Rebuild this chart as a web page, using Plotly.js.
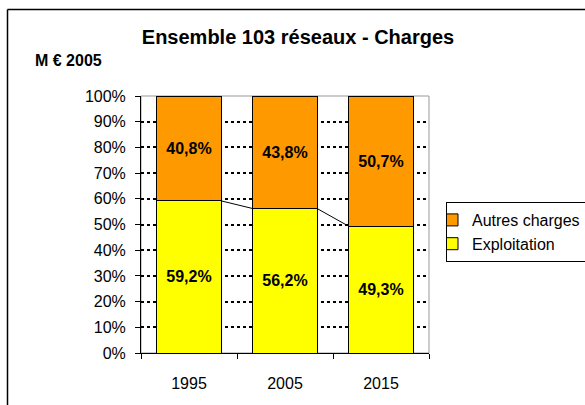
<!DOCTYPE html>
<html><head><meta charset="utf-8">
<script src="https://cdn.plot.ly/plotly-3.0.1.min.js"></script>
<style>body{margin:0;padding:0;background:#fff}#c{width:585px;height:405px}</style>
</head><body><div id="c"></div>
<script>
const years = ['1995', '2005', '2015'];
const exploitation = [0.592, 0.562, 0.493];
const autres = [0.408, 0.438, 0.507];
const exploitLabels = ['59,2%', '56,2%', '49,3%'];
const autresLabels = ['40,8%', '43,8%', '50,7%'];

const xpos = years.map((_, i) => i);
const gap = 0.33;
const halfW = (1 - gap) / 2;
const labelFont = {family:'Liberation Sans, Arial', size:16, color:'#000', weight:'bold'};
const traces = [
  {type:'bar', name:'Exploitation', x:xpos, y:exploitation, text:exploitLabels,
   textposition:'inside', insidetextanchor:'middle', textangle:0, textfont:labelFont,
   marker:{color:'#FFFF00', line:{color:'#000', width:1}}, hoverinfo:'skip'},
  {type:'bar', name:'Autres charges', x:xpos, y:autres, text:autresLabels,
   textposition:'inside', insidetextanchor:'middle', textangle:0, textfont:labelFont,
   marker:{color:'#FF9900', line:{color:'#000', width:1}}, hoverinfo:'skip'}
];
for (let i = 0; i < years.length - 1; i++) {
  traces.push({type:'scatter', mode:'lines', showlegend:false, hoverinfo:'skip',
    x:[xpos[i] + halfW, xpos[i+1] - halfW], y:[exploitation[i], exploitation[i+1]],
    line:{color:'#000', width:1}});
}
const L = 141, R = 429, T = 96, B = 353, W = 585, H = 405;
const px = v => (v - L) / (R - L);
const py = v => (B - v) / (B - T);
const layout = {
  width:W, height:H, margin:{l:L, r:W-R, t:T, b:H-B, autoexpand:false},
  paper_bgcolor:'#fff', plot_bgcolor:'#fff',
  font:{family:'Liberation Sans, Arial', size:16, color:'#000'},
  barmode:'stack', bargap:gap, showlegend:true,
  title:{text:'<b>Ensemble 103 réseaux - Charges</b>', x:px(298), xanchor:'center', xref:'paper',
    y:1-37/H, yanchor:'middle', font:{size:20, color:'#000'}},
  xaxis:{range:[-0.5, 2.5], tickmode:'array', tickvals:xpos, ticktext:years,
    showgrid:false, zeroline:false, showline:true, linecolor:'#000', linewidth:1,
    ticks:'', ticklabelstandoff:16, fixedrange:true,
    minor:{tick0:-0.5, dtick:1, ticks:'outside', ticklen:5, tickcolor:'#000', showgrid:false}},
  yaxis:{range:[0, 1], tickmode:'array', tickvals:[0,0.1,0.2,0.3,0.4,0.5,0.6,0.7,0.8,0.9,1],
    tickformat:'.0%', showgrid:true, gridcolor:'#000', gridwidth:2, griddash:'3px,3px',
    zeroline:false, showline:true, linecolor:'#000', linewidth:1,
    ticks:'outside', ticklen:5, tickcolor:'#000', ticklabelstandoff:6, fixedrange:true},
  legend:{x:px(446), y:py(202), xanchor:'left', yanchor:'top', bordercolor:'#000', borderwidth:1,
    bgcolor:'#fff', traceorder:'reversed', indentation:-15, font:{size:16}},
  shapes:[
    {type:'rect', xref:'paper', yref:'paper', x0:0, x1:1, y0:0, y1:1, line:{color:'#999', width:1}, layer:'below'},
    {type:'line', xref:'paper', yref:'paper', x0:px(7.5), x1:px(600), y0:py(9.5), y1:py(9.5), line:{color:'#000', width:1.5}},
    {type:'line', xref:'paper', yref:'paper', x0:px(7.5), x1:px(7.5), y0:py(9.5), y1:py(420), line:{color:'#000', width:1.5}}
  ],
  annotations:[
    {text:'<b>M € 2005</b>', xref:'paper', yref:'paper', x:px(33), y:py(60), xanchor:'left', yanchor:'middle',
     showarrow:false, font:{size:16, color:'#000'}}
  ]
};
Plotly.newPlot('c', traces, layout, {displayModeBar:false, staticPlot:true});
</script></body></html>
